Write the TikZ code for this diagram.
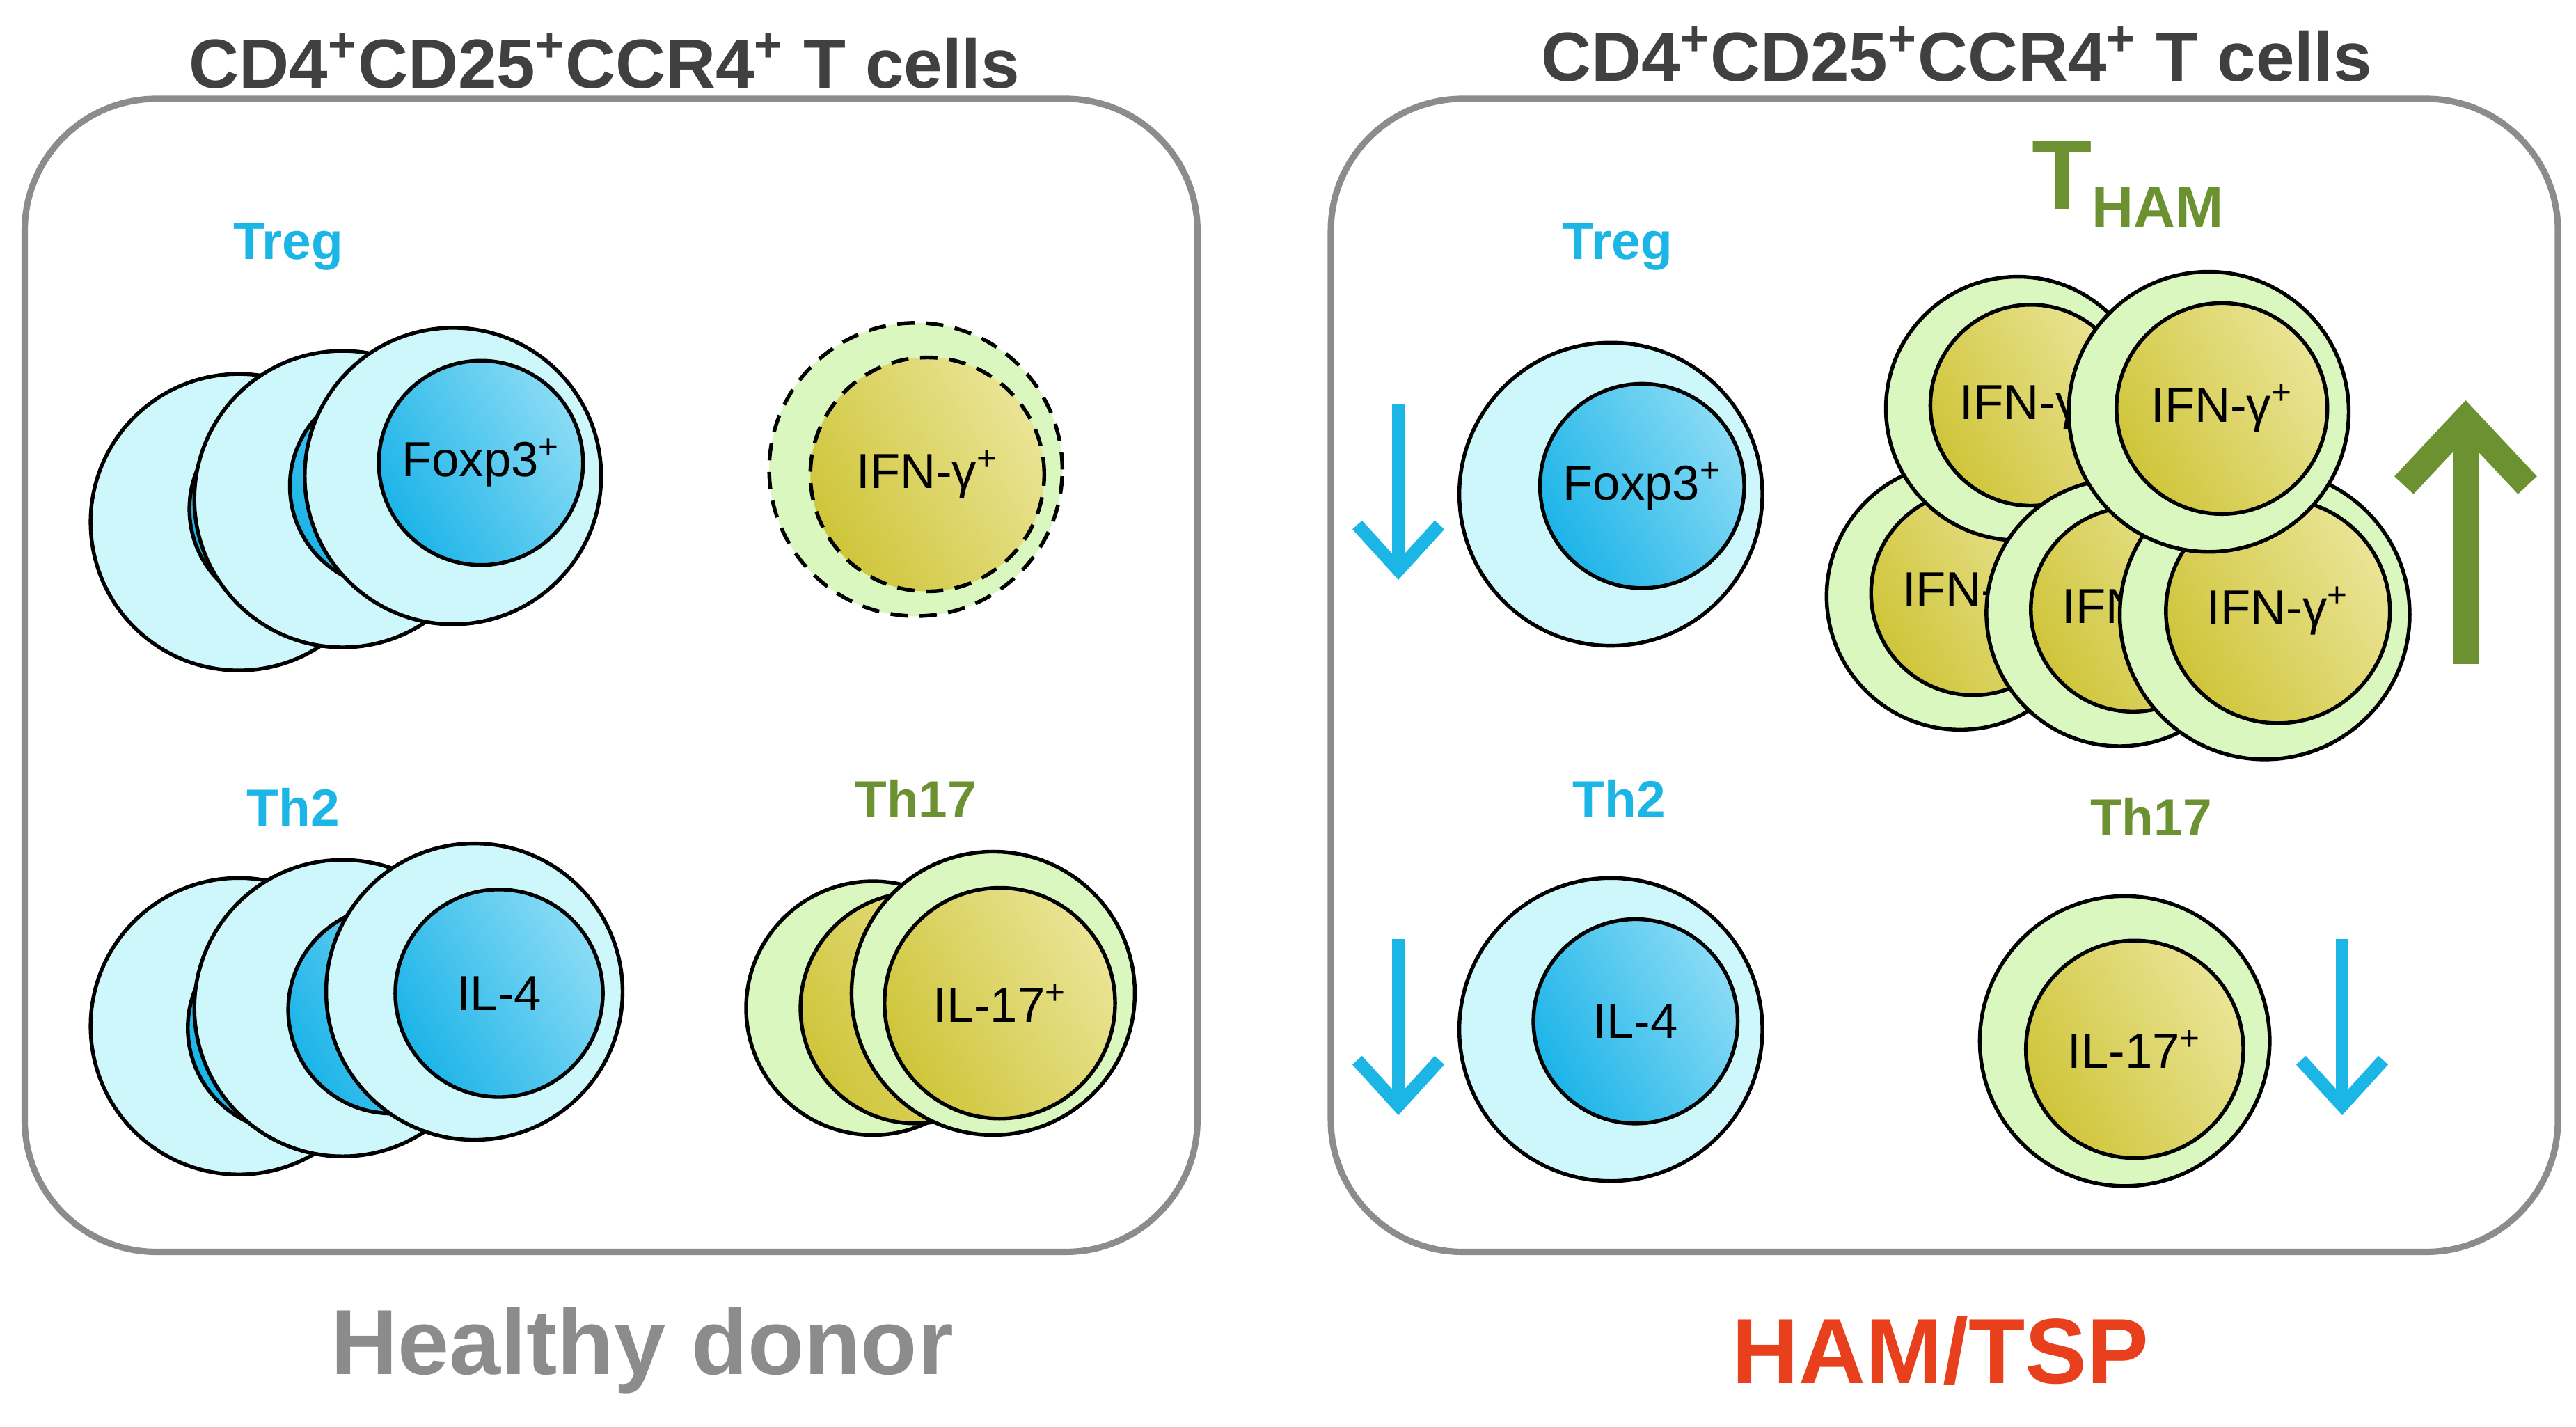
\documentclass[tikz,border=0pt]{standalone}
\usepackage{fontspec}
\setmainfont{Liberation Sans}
\usetikzlibrary{arrows.meta}
\definecolor{boxgray}{HTML}{8C8C8C}
\definecolor{tcyan}{HTML}{1CB6E6}
\definecolor{tgreen}{HTML}{6B9130}
\definecolor{hamred}{HTML}{E8401C}
\definecolor{cyanout}{HTML}{CDF7FA}
\definecolor{cyannuc}{HTML}{1CB4E8}
\definecolor{cyanlite}{HTML}{8ADBF5}
\definecolor{greenout}{HTML}{D9F7BE}
\definecolor{greennuc}{HTML}{CFC53A}
\definecolor{greenlite}{HTML}{EAE496}
\tikzset{
  panel/.style={draw=boxgray, line width=2.2pt, rounded corners=1.6cm},
  outC/.style={circle, draw, line width=1.3pt, fill=cyanout, minimum size=#1*0.02cm, inner sep=0pt},
  nucC/.style={circle, draw, line width=1.3pt, left color=cyannuc, right color=cyanlite, shading angle=120,
    minimum size=#1*0.02cm, inner sep=0pt, font=\fontsize{17}{17}\selectfont},
  outG/.style={circle, draw, line width=1.3pt, fill=greenout, minimum size=#1*0.02cm, inner sep=0pt},
  nucG/.style={circle, draw, line width=1.3pt, left color=greennuc, right color=greenlite, shading angle=120,
    minimum size=#1*0.02cm, inner sep=0pt, font=\fontsize{17}{17}\selectfont},
  kind/.style={font=\bfseries\fontsize{18}{18}\selectfont},
  head/.style={font=\bfseries\fontsize{24}{24}\selectfont, text=black!75},
  downarr/.style={draw=tcyan, line width=4.5pt, -{Straight Barb[length=0.55cm, width=1.0cm]}},
}
\newcommand{\fx}{Foxp3\textsuperscript{+}}
\newcommand{\ifn}{IFN-γ\textsuperscript{+}}
\begin{document}
\begin{tikzpicture}[x=0.02cm, y=-0.02cm]
\useasboundingbox (0,0) rectangle (1564,866);
% panels
\draw[panel] (15,60) rectangle (727,760);
\draw[panel] (808,60) rectangle (1553,760);
\node[head] (titleL) at (367,37) {CD4\textsuperscript{+}CD25\textsuperscript{+}CCR4\textsuperscript{+} T cells};
\node[head] (titleR) at (1188,33) {CD4\textsuperscript{+}CD25\textsuperscript{+}CCR4\textsuperscript{+} T cells};
\node[font=\bfseries\fontsize{32}{32}\selectfont, text=boxgray] (healthy) at (390,820) {Healthy donor};
\node[font=\bfseries\fontsize{32}{32}\selectfont, text=hamred] (ham) at (1178,820) {HAM/TSP};

% healthy donor: Treg
\node[kind, text=tcyan] (tregL) at (175,150) {Treg};
\foreach \i/\x/\y/\d in {1/145/317/32, 2/208/303/30, 3/275/289/17} {
  \node[outC=180] (tregL\i) at (\x,\y) {};
  \node[nucC=124] (tregLn\i) at (\x+\d,\y-8) {\fx};
}
% healthy donor: IFN
\node[circle, draw, dash pattern=on 6pt off 4pt, line width=1.3pt, fill=greenout, minimum size=178*0.02cm] (ifnL) at (556,285) {};
\node[circle, draw, dash pattern=on 6pt off 4pt, line width=1.3pt, left color=greennuc, right color=greenlite, shading angle=120,
  minimum size=142*0.02cm, font=\fontsize{17}{17}\selectfont] (ifnLn) at (563,288) {\ifn};
% healthy donor: Th2
\node[kind, text=tcyan] (th2L) at (178,490) {Th2};
\foreach \i/\x/\y/\d in {1/145/623/32, 2/208/612/30, 3/288/602/15} {
  \node[outC=180] (th2L\i) at (\x,\y) {};
  \node[nucC=126] (th2Ln\i) at (\x+\d,\y+1) {IL-4};
}
% healthy donor: Th17
\node[kind, text=tgreen] (th17L) at (556,485) {Th17};
\node[outG=154] (th17L1) at (530,612) {};
\node[nucG=140] (th17Ln1) at (556,612) {};
\node[outG=172] (th17L2) at (603,603) {};
\node[nucG=140] (th17Ln2) at (607,609) {IL-17\textsuperscript{+}};

% HAM/TSP: Treg and Th2
\node[kind, text=tcyan] (tregR) at (982,150) {Treg};
\node[outC=184] (tregR1) at (978,300) {};
\node[nucC=124] (tregRn1) at (997,295) {\fx};
\node[kind, text=tcyan] (th2R) at (983,485) {Th2};
\node[outC=184] (th2R1) at (978,625) {};
\node[nucC=124] (th2Rn1) at (993,620) {IL-4};
\coordinate (a1s) at (849,245); \coordinate (a1e) at (849,352);
\coordinate (a2s) at (849,570); \coordinate (a2e) at (849,677);
\draw[downarr] (a1s) -- (a1e);
\draw[downarr] (a2s) -- (a2e);

% HAM/TSP: Th17
\node[kind, text=tgreen] (th17R) at (1306,496) {Th17};
\node[outG=176] (th17R1) at (1290,632) {};
\node[nucG=132] (th17Rn1) at (1296,637) {IL-17\textsuperscript{+}};
\coordinate (a3s) at (1422,570); \coordinate (a3e) at (1422,677);
\draw[downarr] (a3s) -- (a3e);

% HAM/TSP: T_HAM cluster
\node[text=tgreen, font=\bfseries\fontsize{34}{34}\selectfont] (tham) at (1292,112)
  {T\raisebox{-0.35ex}{\fontsize{20}{20}\selectfont HAM}};
\foreach \i/\x/\y/\r/\n in {1/1190/362/162/124, 2/1225/248/160/122, 3/1287/372/162/124,
                            4/1375/373/176/136, 5/1341/250/170/128} {
  \node[outG=\r] (tham\i) at (\x,\y) {};
  \node[nucG=\n] (thamn\i) at (\x+8,\y-2) {\ifn};
}
\coordinate (upS) at (1497,403); \coordinate (upE) at (1497,243);
\draw[draw=tgreen, line width=9pt, -{Straight Barb[length=0.8cm, width=1.5cm]}] (upS) -- (upE);
\end{tikzpicture}
\end{document}
